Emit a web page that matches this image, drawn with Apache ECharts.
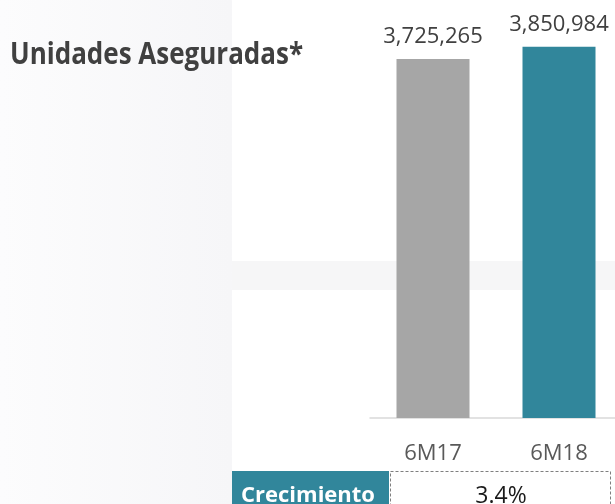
<!DOCTYPE html>
<html><head><meta charset="utf-8">
<script src="https://cdn.jsdelivr.net/npm/echarts@6/dist/echarts.min.js"></script>
<style>html,body{margin:0;padding:0;background:#fff;overflow:hidden;width:615px;height:504px}#c{width:630px;height:504px}</style>
</head><body><div id="c"></div>
<script>
const categories = ['6M17', '6M18'];
const values = [3725265, 3850984];
const barColors = ['#a6a6a6', '#31869b'];
const title = 'Unidades Aseguradas*';
const growthLabel = 'Crecimiento';
const growthValue = '3.4%';

const chart = echarts.init(document.getElementById('c'));
const fnt = '"Open Sans", "Noto Sans", sans-serif';
chart.setOption({
  animation: false,
  backgroundColor: '#ffffff',
  graphic: [
    {type: 'rect', z: -10, shape: {x: 0, y: 0, width: 232, height: 504},
      style: {fill: new echarts.graphic.LinearGradient(0, 0, 1, 0, [{offset: 0, color: '#fcfcfd'}, {offset: 1, color: '#f6f6f8'}])}},
    {type: 'rect', z: -10, shape: {x: 232, y: 261, width: 400, height: 29}, style: {fill: '#f6f6f7'}},
    {type: 'text', x: 10, y: 55, scaleY: 1.15, style: {text: title, font: 'bold 26px ' + fnt, fill: '#404040', verticalAlign: 'middle'}},
    {type: 'rect', shape: {x: 232, y: 471, width: 157, height: 40}, style: {fill: '#31869b'}},
    {type: 'text', x: 308, y: 496, style: {text: growthLabel, font: 'bold 22px ' + fnt, fill: '#ffffff', align: 'center', verticalAlign: 'middle'}},
    {type: 'rect', shape: {x: 390.5, y: 471.5, width: 220, height: 40}, style: {fill: 'none', stroke: '#7f7f7f', lineWidth: 1, lineDash: [3, 2]}},
    {type: 'text', x: 501, y: 496, style: {text: growthValue, font: '23px ' + fnt, fill: '#1a1a1a', align: 'center', verticalAlign: 'middle'}}
  ],
  grid: {left: 370, width: 252, top: 32.5, bottom: 86},
  xAxis: {
    type: 'category', data: categories,
    axisLine: {lineStyle: {color: '#d9d9d9', width: 1.5}},
    axisTick: {show: false},
    axisLabel: {color: '#595959', fontSize: 22, fontFamily: fnt, margin: 25}
  },
  yAxis: {type: 'value', min: 0, max: 4000000, show: false, splitLine: {show: false}},
  series: [{
    type: 'bar', barWidth: 73,
    data: values.map((v, i) => ({value: v, itemStyle: {color: barColors[i]}})),
    label: {show: true, position: 'top', distance: 11, color: '#404040', fontSize: 22, fontFamily: fnt,
      formatter: p => p.value.toLocaleString('en-US')}
  }]
});
</script></body></html>
